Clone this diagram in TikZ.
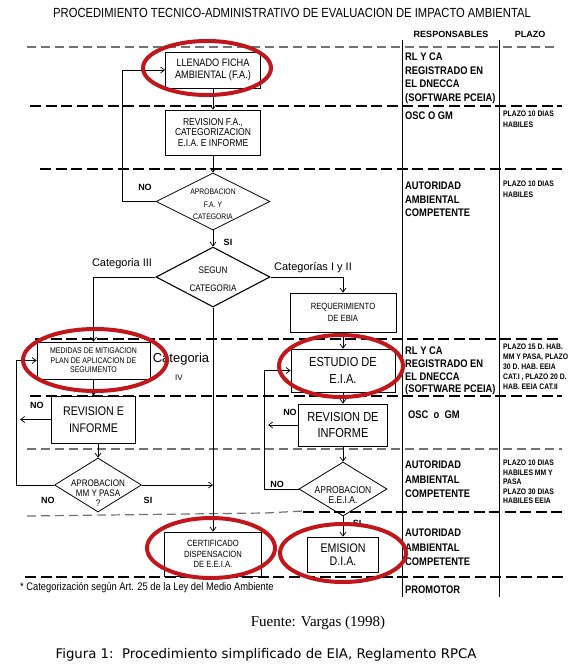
\documentclass[tikz,border=0pt]{standalone}
\usepackage{fontspec}
\setmainfont{Liberation Sans}
\newfontfamily\narrowfont{Liberation Sans}[FakeStretch=0.85]
\newfontfamily\sourcefont{Liberation Serif}
\newfontfamily\figurafont{DejaVu Sans}
\usetikzlibrary{arrows.meta,shapes.geometric}
\definecolor{hired}{RGB}{193,22,28}
\newcommand{\setfs}[2]{\fontsize{#1}{#2}\selectfont}

\begin{document}
\begin{tikzpicture}[x=1pt, y=-1pt,
  box/.style={draw, line width=0.8pt, inner sep=0pt, align=center},
  dec/.style={draw, diamond, line width=0.8pt, inner sep=0pt, shape aspect=2},
  dectext/.style={align=center, inner sep=0pt},
  arr/.style={draw, line width=0.7pt, -{Straight Barb[length=4pt,width=6pt]}},
  bigdash/.style={line width=2.8pt, dash pattern=on 11pt off 4.5pt},
  smalldash/.style={line width=1.2pt, draw=black!55, dash pattern=on 9pt off 5pt},
  col/.style={line width=0.7pt},
  lbl/.style={inner sep=0pt, font=\bfseries\setfs{9}{10}},
  cat/.style={inner sep=0pt, font=\setfs{11}{12}},
  resp/.style={anchor=north west, inner sep=0pt, align=left, font=\narrowfont\bfseries\setfs{11}{13.5}},
  plazo/.style={anchor=north west, inner sep=0pt, align=left, font=\narrowfont\bfseries\setfs{8}{10}},
  hilite/.style={draw=hired, line width=4pt}
]
\useasboundingbox (0,0) rectangle (583,670);

\draw[smalldash] (27,47) -- (558,47);
\draw[bigdash] (30,106) -- (562,106);
\draw[bigdash] (40,169) -- (562,169);
\draw[bigdash] (35,339) -- (562,339);
\draw[bigdash] (30,396) -- (562,396);
\draw[smalldash] (27,449) -- (562,449);
\draw[smalldash] (27,516) -- (265,513) -- (303,511);
\draw[bigdash] (303,512) -- (565,512);
\draw[bigdash] (25,577) -- (565,577);
\draw[col] (402,40) -- (402,597);
\draw[col] (499,40) -- (499,597);

\node[font=\narrowfont\setfs{13.2}{14}] (title) at (292,13) {PROCEDIMIENTO TECNICO-ADMINISTRATIVO DE EVALUACION DE IMPACTO AMBIENTAL};
\node[font=\bfseries\setfs{9}{10}] (hdrResp) at (451,34) {RESPONSABLES};
\node[font=\bfseries\setfs{9}{10}] (hdrPlazo) at (530,34) {PLAZO};

\node[box, minimum width=95, minimum height=36, font=\narrowfont\setfs{10.8}{12}] (llenado) at (213,70) {LLENADO FICHA\\AMBIENTAL (F.A.)};
\node[box, minimum width=95, minimum height=45, font=\narrowfont\setfs{10}{10.5}] (revFA) at (213,132.5) {REVISION F.A.,\\CATEGORIZACION\\E.I.A. E INFORME};
\node[dec, minimum width=114, minimum height=57, label={[dectext, yshift=-3, font=\narrowfont\setfs{8}{12.5}]center:APROBACION\\F.A. Y\\CATEGORIA}] (aprFA) at (213,201.5) {};
\node[dec, minimum width=114, minimum height=60, line width=1.1pt, label={[dectext, yshift=-2, font=\narrowfont\setfs{9.5}{18}]center:SEGUN\\CATEGORIA}] (segun) at (213,277) {};
\node[box, minimum width=106, minimum height=39, font=\narrowfont\setfs{9}{12}] (requer) at (343,312.5) {REQUERIMIENTO\\DE EBIA};
\node[box, minimum width=113, minimum height=37, font=\narrowfont\setfs{8.2}{9.5}] (medidas) at (93.5,360.5) {MEDIDAS DE MITIGACION\\PLAN DE APLICACION DE\\SEGUIMENTO};
\node[box, minimum width=84, minimum height=47, font=\narrowfont\setfs{12.5}{17}] (revE) at (93.5,419.5) {REVISION E\\INFORME};
\node[dec, minimum width=87, minimum height=54, label={[dectext, yshift=-8, font=\narrowfont\setfs{9.5}{10}]center:APROBACION\\MM Y PASA\\?}] (mm) at (98,485) {};
\node[box, minimum width=104, minimum height=43, font=\narrowfont\setfs{13}{17}] (estudio) at (343,370.5) {ESTUDIO DE\\E.I.A.};
\node[box, minimum width=89, minimum height=42, font=\narrowfont\setfs{13}{16}] (revDe) at (343,425) {REVISION DE\\INFORME};
\node[dec, minimum width=88, minimum height=54, label={[dectext, yshift=-6, font=\narrowfont\setfs{10}{10}]center:APROBACION\\E.E.I.A.}] (aprE) at (343,489) {};
\node[box, minimum width=97, minimum height=44, font=\narrowfont\setfs{9}{10.5}] (cert) at (213,554) {CERTIFICADO\\DISPENSACION\\DE E.E.I.A.};
\node[box, minimum width=71, minimum height=35, font=\narrowfont\setfs{12.5}{13}] (emision) at (343,554.5) {EMISION\\D.I.A.};

\node[lbl] (noFA) at (145,187) {NO};
\node[lbl] (siFA) at (228,242) {SI};
\node[cat] (cat3) at (122,264) {Categoria III};
\node[cat] (cat12) at (313,268) {Categorías I y II};
\node[inner sep=0pt, font=\setfs{13}{14}] (cat4) at (181,359) {Categoria};
\node[inner sep=0pt, font=\setfs{8}{9}] (cat4b) at (179,378) {IV};
\node[lbl] (noRevE) at (37,405) {NO};
\node[lbl] (noMM) at (48,500) {NO};
\node[lbl] (siMM) at (148,500) {SI};
\node[lbl] (noRevDe) at (290,412) {NO};
\node[lbl] (noE) at (277,484) {NO};
\node[lbl] (siE) at (357,523) {SI};

\draw[arr] (llenado) -- (revFA);
\draw[arr] (revFA) -- (aprFA);
\draw[arr] (aprFA) -- (segun);
\draw[arr] (aprFA.west) -- ++(-33,0) |- (llenado.west);
\draw[arr] (segun.west) -| (medidas.north);
\draw[arr] (segun.east) -| (requer.north);
\draw[arr] (segun.south) -- (cert.north);
\draw[arr] (requer) -- (estudio);
\draw[arr] (estudio) -- (revDe);
\draw[arr] (revDe) -- (aprE);
\draw[arr] (aprE) -- (emision);
\draw[arr] (aprE.west) -- ++(-34,0) |- (estudio.west);
\draw[arr] (revDe.west) -- ++(-30,0);
\draw[arr] (medidas) -- (revE);
\draw[arr] (mm.north |- revE.south) -- (mm.north);
\draw[arr] (revE.west) -- ++(-31,0);
\draw[arr] (mm.west) -- ++(-38,0) |- (medidas.west);
\draw[arr] (mm.east) -- (mm.east -| segun.south);

\node[resp] (resp1) at (405,53) {RL Y CA\\REGISTRADO EN\\EL DNECCA\\(SOFTWARE PCEIA)};
\node[resp] (resp2) at (405,112) {OSC O GM};
\node[resp] (resp3) at (405,182) {AUTORIDAD\\AMBIENTAL\\COMPETENTE};
\node[resp, font=\narrowfont\bfseries\setfs{11}{12.7}] (resp4) at (405,347) {RL Y CA\\REGISTRADO EN\\EL DNECCA\\(SOFTWARE PCEIA)};
\node[resp] (resp5) at (408,411) {OSC\ \ o\ \ GM};
\node[resp, font=\narrowfont\bfseries\setfs{11}{14.5}] (resp6) at (405,461) {AUTORIDAD\\AMBIENTAL\\COMPETENTE};
\node[resp, font=\narrowfont\bfseries\setfs{11}{14.5}] (resp7) at (405,529) {AUTORIDAD\\AMBIENTAL\\COMPETENTE};
\node[resp] (resp8) at (405,586) {PROMOTOR};

\node[plazo, font=\narrowfont\bfseries\setfs{8}{10.5}] (plazo1) at (503,111) {PLAZO 10 DIAS\\HABILES};
\node[plazo, font=\narrowfont\bfseries\setfs{8}{10.5}] (plazo2) at (503,181) {PLAZO 10 DIAS\\HABILES};
\node[plazo] (plazo3) at (503,344) {PLAZO 15 D. HAB.\\MM Y PASA, PLAZO\\30 D. HAB. EEIA\\CAT.I , PLAZO 20 D.\\HAB. EEIA CAT.II};
\node[plazo, font=\narrowfont\bfseries\setfs{8}{9.5}] (plazo4) at (503,460) {PLAZO 10 DIAS\\HABILES MM Y\\PASA\\PLAZO 30 DIAS\\HABILES EEIA};

\draw[hilite] (207,68) ellipse [x radius=64, y radius=27];
\draw[hilite] (95,360) ellipse [x radius=72, y radius=31];
\draw[hilite] (341,366) ellipse [x radius=62, y radius=31];
\draw[hilite] (211,548) ellipse [x radius=64, y radius=30];
\draw[hilite] (343,553) ellipse [x radius=63, y radius=29];

\node[anchor=west, inner sep=0pt, font=\narrowfont\setfs{11}{12}] (nota) at (20,588) {* Categorización según Art. 25 de la Ley del Medio Ambiente};
\node[font=\sourcefont\setfs{15}{17}] (fuente) at (318,623) {Fuente: Vargas (1998)};
\node[font=\figurafont\setfs{13.3}{15}] (figura) at (266,655) {Figura 1:\ \ Procedimiento simplificado de EIA, Reglamento RPCA};
\end{tikzpicture}
\end{document}
